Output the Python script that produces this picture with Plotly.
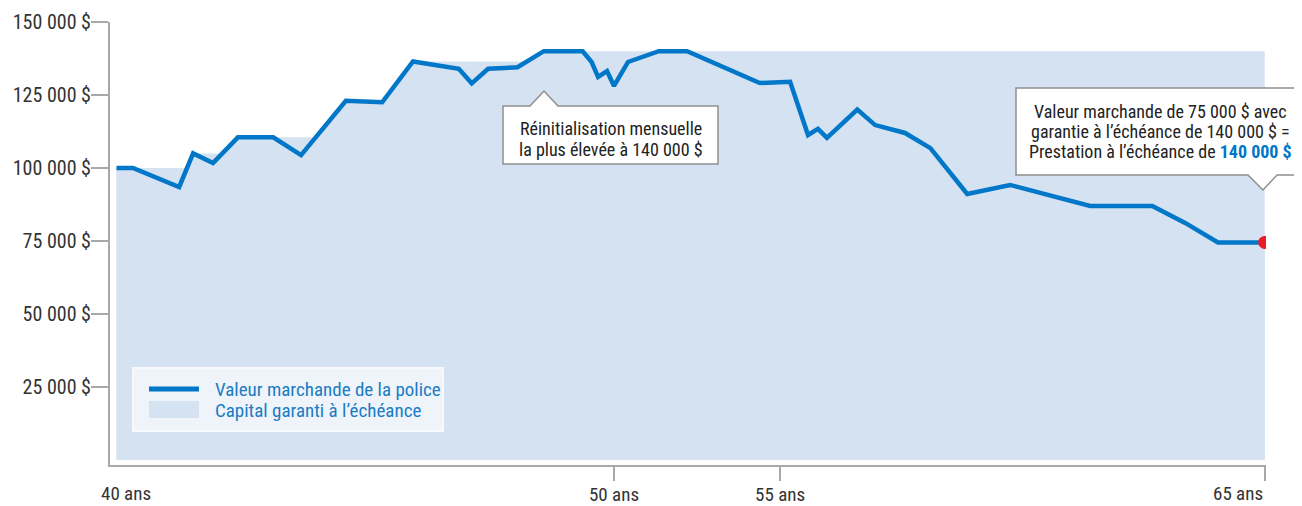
import plotly.graph_objects as go

# ---------------- data ----------------
# Position of each vertex on the (stylised) age axis
x_pos = [40.00, 40.33, 41.26, 41.54, 41.94, 42.44, 43.15, 43.71, 44.61, 45.34,
         45.96, 46.88, 47.14, 47.47, 48.06, 48.59, 49.37, 49.55, 49.68, 49.86,
         50.00, 50.28, 50.90, 51.47, 52.93, 53.54, 53.90, 54.10, 54.28, 54.89,
         55.25, 55.85, 56.36, 57.10, 57.96, 59.57, 60.82, 61.48, 62.14, 63.08]
market_value = [100000, 100000, 93500, 105000, 101700, 110500, 110500, 104400, 123000, 122500,
                136500, 134000, 129000, 134000, 134500, 140000, 140000, 136300, 131200, 133200,
                128100, 136300, 140000, 140000, 129100, 129500, 111300, 113400, 110300, 120000,
                114700, 112000, 106800, 91100, 94200, 87000, 87000, 81200, 74500, 74500]

# Guaranteed maturity capital (monthly reset steps)
guar_x = [40.00, 41.54, 42.44, 44.61, 45.96, 48.59, 63.08]
guar_val = [100000, 105000, 110500, 123000, 136500, 140000, 140000]

# Axes
x_tick_pos = [50.00, 53.34, 63.08]
x_tick_text = ["50 ans", "55 ans", ""]
first_age_label = "40 ans"
last_age_label = "65 ans"
y_tick_vals = [25000, 50000, 75000, 100000, 125000, 150000]
y_tick_text = ["25 000 $", "50 000 $", "75 000 $", "100 000 $", "125 000 $", "150 000 $"]

series_names = ["Valeur marchande de la police", "Capital garanti à l’échéance"]

# ---------------- styles ----------------
FONT = "Liberation Sans Narrow, Arial Narrow, Roboto Condensed, Roboto, DejaVu Sans Condensed, sans-serif"
BLUE = "#0077c8"
FILL = "#d5e2f1"
AXIS = "#a8a8a8"
TEXT = "#333333"
RED = "#ed1c24"
LEG_TEXT = "#1a7cc4"

OFF = 8                      # page body margin
W, H = 1302 - OFF, 506 - OFF
PL, PR, PT, PB = 110, 1266, 22, 465   # plot area in page pixels


def px(xp):
    return (xp - PL) / (PR - PL)


def py(yp):
    return (PB - yp) / (PB - PT)


fig = go.Figure()

# area under the market value line
fig.add_trace(go.Scatter(x=x_pos, y=market_value, mode="lines", line=dict(width=0, color=FILL),
                         fill="tozeroy", fillcolor=FILL, showlegend=False, hoverinfo="skip"))
# guaranteed capital (step area)
fig.add_trace(go.Scatter(x=guar_x, y=guar_val, mode="lines", line=dict(width=0, color=FILL, shape="hv"),
                         fill="tozeroy", fillcolor=FILL, name=series_names[1], showlegend=False))
# market value line
fig.add_trace(go.Scatter(x=x_pos, y=market_value, mode="lines", line=dict(width=4.5, color=BLUE),
                         name=series_names[0], showlegend=False))
# end point
fig.add_trace(go.Scatter(x=[x_pos[-1]], y=[market_value[-1]], mode="markers",
                         marker=dict(size=13, color=RED), showlegend=False))

x0 = 40 - (116.5 - PL) / 49.75
x1 = 40 + (PR - 116.5) / 49.75

fig.update_layout(
    width=W, height=H,
    margin=dict(l=PL - OFF, r=W - (PR - OFF), t=PT - OFF, b=H - (PB - OFF), autoexpand=False),
    paper_bgcolor="white", plot_bgcolor="white",
    font=dict(family=FONT, size=19, color=TEXT),
    showlegend=False,
    xaxis=dict(range=[x0, x1], showgrid=False, zeroline=False, showline=True,
               linecolor=AXIS, linewidth=2, ticks="outside", ticklen=14, tickwidth=2,
               tickcolor=AXIS, tickvals=x_tick_pos, ticktext=x_tick_text,
               ticklabelstandoff=-3,
               tickfont=dict(family=FONT, size=19, color=TEXT)),
    yaxis=dict(range=[-1712, 150000], showgrid=False, zeroline=False, showline=True,
               linecolor=AXIS, linewidth=2, ticks="outside", ticklen=17, tickwidth=2,
               tickcolor=AXIS, tickvals=y_tick_vals, ticktext=y_tick_text,
               ticklabelstandoff=-4,
               tickfont=dict(family=FONT, size=20, color=TEXT)),
)

# x labels not sitting on a tick centre
fig.add_annotation(x=px(126), y=py(494), xref="paper", yref="paper", text=first_age_label,
                   showarrow=False, xanchor="center", yanchor="middle",
                   font=dict(family=FONT, size=19, color=TEXT))
fig.add_annotation(x=x_tick_pos[-1], y=py(494), xref="x", yref="paper", text=last_age_label,
                   showarrow=False, xanchor="right", yanchor="middle",
                   font=dict(family=FONT, size=19, color=TEXT))


def path(points):
    s = "M" + " L".join(f"{px(a):.5f},{py(b):.5f}" for a, b in points) + " Z"
    return s


# ---------------- legend (drawn as a boxed key) ----------------
fig.add_shape(type="rect", xref="paper", yref="paper", x0=px(133), x1=px(443), y0=py(431), y1=py(368),
              fillcolor="#eff4fa", line=dict(color="#f7f9fc", width=2), layer="above")
fig.add_shape(type="line", xref="paper", yref="paper", x0=px(149), x1=px(199), y0=py(389), y1=py(389),
              line=dict(color=BLUE, width=5), layer="above")
fig.add_shape(type="rect", xref="paper", yref="paper", x0=px(149), x1=px(199), y0=py(418), y1=py(401),
              fillcolor=FILL, line=dict(width=0), layer="above")
for name, yy in zip(series_names, [389, 410]):
    fig.add_annotation(x=px(213), y=py(yy), xref="paper", yref="paper", text=name, showarrow=False,
                       xanchor="left", yanchor="middle", font=dict(family=FONT, size=19, color=LEG_TEXT))

# callout 1 (notch on top)
fig.add_shape(type="path", xref="paper", yref="paper",
              path=path([(503, 106), (530, 106), (544, 91), (558, 106), (718, 106), (718, 164), (503, 164)]),
              fillcolor="white", line=dict(color="#8f8f8f", width=1.5), layer="above")
# callout 2 (notch at the bottom)
fig.add_shape(type="path", xref="paper", yref="paper",
              path=path([(1016, 88), (1300, 88), (1300, 175), (1277, 175), (1263, 190), (1248, 175), (1016, 175)]),
              fillcolor="white", line=dict(color="#8f8f8f", width=1.5), layer="above")

callout1 = ["Réinitialisation mensuelle", "la plus élevée à 140 000 $"]
for txt, yy in zip(callout1, [128, 149]):
    fig.add_annotation(x=px(610.5), y=py(yy), xref="paper", yref="paper", text=txt, showarrow=False,
                       xanchor="center", yanchor="middle", font=dict(family=FONT, size=18, color="#222222"))

callout2 = ["Valeur marchande de 75 000 $ avec",
            "garantie à l’échéance de 140 000 $ =",
            "Prestation à l’échéance de <b><span style='color:#0077c8'>140 000 $</span></b>"]
for txt, yy in zip(callout2, [112, 132, 152]):
    fig.add_annotation(x=px(1160), y=py(yy), xref="paper", yref="paper", text=txt, showarrow=False,
                       xanchor="center", yanchor="middle", font=dict(family=FONT, size=18, color="#222222"))

fig.write_html("out.html")
